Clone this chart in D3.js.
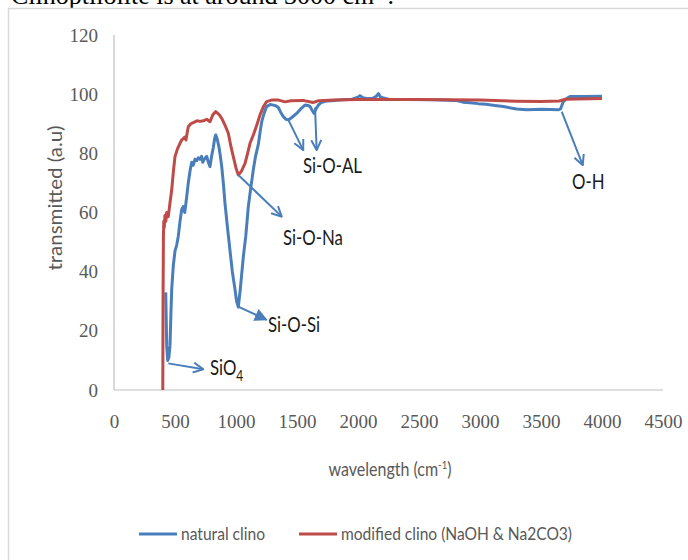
<!DOCTYPE html>
<html>
<head>
<meta charset="utf-8">
<script src="https://cdn.jsdelivr.net/npm/d3@7"></script>
<style>
  body { margin: 0; background: #fff; }
  svg { display: block; }
</style>
</head>
<body>
<div id="chart"></div>
<script>
// wavenumber (cm-1) and transmittance values
var naturalWave = [424,432,440,450,459,466,473,486,500,514,527,541,555,568,580,595,609,623,637,650,664,678,691,705,718,727,740,760,773,787,800,814,825,834,845,861,872,883,896,910,930,951,970,992,1005,1019,1035,1060,1080,1101,1120,1142,1160,1183,1200,1211,1230,1251,1280,1306,1330,1347,1365,1388,1410,1429,1460,1497,1530,1566,1590,1607,1625,1640,1655,1675,1700,1730,1780,1850,1950,2000,2016,2040,2080,2120,2150,2167,2185,2250,2400,2600,2800,2860,2918,2986,3050,3120,3191,3300,3383,3450,3506,3580,3642,3660,3683,3710,3738,3850,4000];
var naturalVal = [33,15,10,11,15,25,34,42,47,49,52,57,61,62,60,65,70,74,77,76,78,77.5,78.5,78,79,77,78,79,77,75.5,79,82,85,86.2,85,82,79,75.5,70,63,55,47,40,34,30,28,34,45,52,62,68,74.5,79,83,88,90.7,93.5,95.8,96.5,96.3,96,95.5,94,92.4,91.5,91.3,92.2,93.5,95,96.3,96.2,95.8,94.5,93.5,95,96.3,97.2,97.6,97.8,98,98.3,99,99.5,98.8,98.5,98.6,99.3,100.2,99,98.3,98.2,98.1,97.9,97.3,97.1,96.8,96.6,96.2,95.8,95,94.7,94.8,94.9,94.8,94.7,95,97.5,98.5,99.2,99.2,99.3];

var modifiedWave = [400,402,405,408,412,418,425,432,445,458,473,487,500,520,541,555,568,580,590,600,609,630,650,680,705,732,760,787,810,834,860,883,910,937,960,978,1000,1019,1045,1074,1095,1115,1142,1170,1197,1225,1251,1290,1350,1402,1450,1550,1631,1680,1800,2000,2500,3000,3300,3500,3650,3700,4000];
var modifiedVal = [0,30,52,57,55,59,57,60,58.6,63,67.6,74,78.9,81.5,83.4,84.5,85,85.5,84.5,87,89,90,90.4,91,90.8,91,91.5,90.7,93,94.1,93.2,91.8,89.5,86.8,82,78.9,75,72.7,74,76.6,80,83.4,86.2,89.5,93,95.8,97.5,98,98,97.4,97.8,97.9,97.2,97.8,98,98.2,98.2,98,97.6,97.5,97.7,98.3,98.5];

var seriesNames = ["natural clino", "modified clino (NaOH & Na2CO3)"];
var xTicks = [0,500,1000,1500,2000,2500,3000,3500,4000,4500];
var yTicks = [0,20,40,60,80,100,120];

// band annotations: arrow from the curve to the label (data coordinates)
var bandLabels = ["SiO", "Si-O-Si", "Si-O-Na", "Si-O-AL", "Si-O-AL", "O-H"];
var arrowFrom = [[445,9.0],[1019,28.2],[1019,72.7],[1429,91.3],[1648,95.5],[3670,94.1]];
var arrowTo   = [[732,7.0],[1251,23.7],[1375,58.6],[1551,81.1],[1661,81.1],[3842,76]];
var labelAt   = [[787,5.1],[1262,19.6],[1385,49.0],[1549,73.4],null,[3754,68.0]];

var W = 688, H = 560;
var blue = "#4a7ebb", red = "#be4b48", grey = "#595959";

var svg = d3.select("#chart").append("svg")
  .attr("width", W).attr("height", H);

// cut-off line of the surrounding document
svg.append("text")
  .attr("x", 11).attr("y", 4)
  .attr("font-family", "Liberation Serif")
  .attr("font-size", "26px")
  .attr("fill", "#000")
  .text("Clinoptilolite is at around 3000 cm")
  .append("tspan").attr("dy", -9).attr("font-size", "16px").text("-1")
  .append("tspan").attr("dy", 9).attr("font-size", "26px").text(".");

// chart frame
svg.append("rect")
  .attr("x", 8.5).attr("y", 8.5)
  .attr("width", 720).attr("height", 620)
  .attr("fill", "none")
  .attr("stroke", "#d9d9d9")
  .attr("stroke-width", 1.5);

var x = d3.scaleLinear().domain([0, 4500]).range([114, 663]);
var y = d3.scaleLinear().domain([0, 120]).range([390, 35]);

// axes (no tick marks, just labels)
var xAxis = svg.append("g").attr("transform", "translate(0," + y(0) + ")")
  .call(d3.axisBottom(x).tickValues(xTicks).tickSize(0).tickPadding(25).tickFormat(d3.format("d")));
var yAxis = svg.append("g").attr("transform", "translate(" + x(0) + ",0)")
  .call(d3.axisLeft(y).tickValues(yTicks).tickSize(0).tickPadding(16).tickFormat(d3.format("d")));

[xAxis, yAxis].forEach(function (g) {
  g.select(".domain").attr("stroke", "#bfbfbf").attr("stroke-width", 1.2);
  g.selectAll("text")
    .attr("font-family", "Liberation Serif")
    .attr("font-size", "19px")
    .attr("fill", grey);
});
xAxis.select(".domain").attr("d", "M" + x(0) + ",0H" + x(4500));
yAxis.select(".domain").attr("d", "M0," + y(0) + "V" + y(120));

// axis titles
svg.append("text")
  .attr("transform", "translate(62,198) rotate(-90)")
  .attr("text-anchor", "middle")
  .attr("font-family", "Lato, 'Open Sans', sans-serif")
  .attr("font-size", "19px")
  .attr("fill", grey)
  .attr("textLength", 145)
  .attr("lengthAdjust", "spacingAndGlyphs")
  .text("transmitted (a.u)");

var xt = svg.append("text")
  .attr("transform", "translate(390,476) scale(0.8,1)")
  .attr("text-anchor", "middle")
  .attr("font-family", "Lato, 'Open Sans', sans-serif")
  .attr("font-size", "20px")
  .attr("fill", grey);
xt.append("tspan").text("wavelength (cm");
xt.append("tspan").attr("dy", -7).attr("font-size", "12px").text("-1");
xt.append("tspan").attr("dy", 7).text(")");

// lines
var line = d3.line()
  .x(function (d) { return x(d[0]); })
  .y(function (d) { return y(d[1]); });

var natural = d3.zip(naturalWave, naturalVal);
var modified = d3.zip(modifiedWave, modifiedVal);

svg.append("path").datum(natural)
  .attr("d", line).attr("fill", "none")
  .attr("stroke", blue).attr("stroke-width", 3).attr("stroke-linejoin", "round");
svg.append("path").datum(modified)
  .attr("d", line).attr("fill", "none")
  .attr("stroke", red).attr("stroke-width", 3).attr("stroke-linejoin", "round");

// arrow heads
var defs = svg.append("defs");
defs.append("marker")
  .attr("id", "open").attr("viewBox", "0 0 12 12")
  .attr("refX", 11).attr("refY", 6)
  .attr("markerWidth", 12).attr("markerHeight", 12)
  .attr("markerUnits", "userSpaceOnUse").attr("orient", "auto")
  .append("path").attr("d", "M1,1 L11,6 L1,11")
  .attr("fill", "none").attr("stroke", blue).attr("stroke-width", 2);
defs.append("marker")
  .attr("id", "solid").attr("viewBox", "0 0 12 12")
  .attr("refX", 11).attr("refY", 6)
  .attr("markerWidth", 13).attr("markerHeight", 13)
  .attr("markerUnits", "userSpaceOnUse").attr("orient", "auto")
  .append("path").attr("d", "M0,0 L12,6 L0,12 Z")
  .attr("fill", blue);

arrowFrom.forEach(function (p, i) {
  var q = arrowTo[i];
  svg.append("line")
    .attr("x1", x(p[0])).attr("y1", y(p[1]))
    .attr("x2", x(q[0])).attr("y2", y(q[1]))
    .attr("stroke", blue).attr("stroke-width", 2)
    .attr("marker-end", bandLabels[i] === "Si-O-Si" ? "url(#solid)" : "url(#open)");
});

labelAt.forEach(function (p, i) {
  if (!p) return;
  var t = svg.append("text")
    .attr("transform", "translate(" + x(p[0]) + "," + y(p[1]) + ") scale(0.8,1)")
    .attr("font-family", "Lato, 'Open Sans', sans-serif")
    .attr("font-size", "21px")
    .attr("fill", "#1a1a1a");
  t.append("tspan").text(bandLabels[i]);
  if (bandLabels[i] === "SiO") {
    t.append("tspan").attr("dy", 6).attr("font-size", "15px").text("4");
  }
});

// legend
var legend = svg.append("g").attr("transform", "translate(0,534)");
var legX = [139, 299];
var legColor = [blue, red];
var legWidth = [84, 231];
seriesNames.forEach(function (name, i) {
  legend.append("line")
    .attr("x1", legX[i]).attr("x2", legX[i] + 38)
    .attr("y1", 0).attr("y2", 0)
    .attr("stroke", legColor[i]).attr("stroke-width", 3);
  legend.append("text")
    .attr("x", legX[i] + 42).attr("y", 6)
    .attr("font-family", "Lato, 'Open Sans', sans-serif")
    .attr("font-size", "17px")
    .attr("fill", grey)
    .attr("textLength", legWidth[i])
    .attr("lengthAdjust", "spacingAndGlyphs")
    .text(name);
});
</script>
</body>
</html>
